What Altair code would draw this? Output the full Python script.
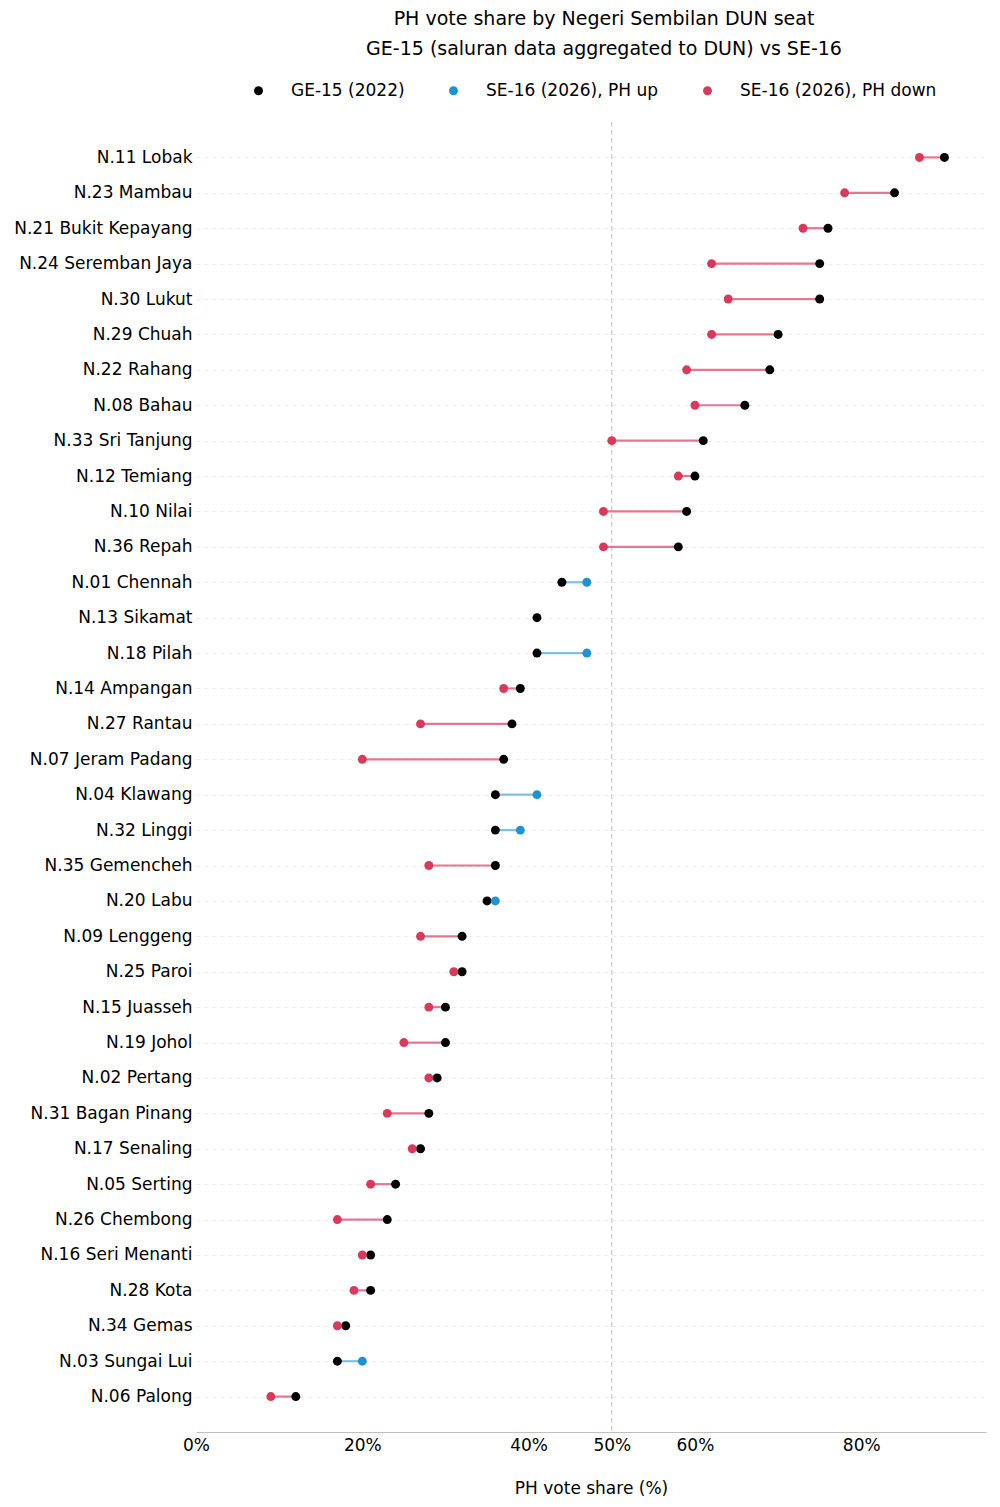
import altair as alt
import pandas as pd

seats = ["N.11 Lobak", "N.23 Mambau", "N.21 Bukit Kepayang", "N.24 Seremban Jaya", "N.30 Lukut",
         "N.29 Chuah", "N.22 Rahang", "N.08 Bahau", "N.33 Sri Tanjung", "N.12 Temiang",
         "N.10 Nilai", "N.36 Repah", "N.01 Chennah", "N.13 Sikamat", "N.18 Pilah",
         "N.14 Ampangan", "N.27 Rantau", "N.07 Jeram Padang", "N.04 Klawang", "N.32 Linggi",
         "N.35 Gemencheh", "N.20 Labu", "N.09 Lenggeng", "N.25 Paroi", "N.15 Juasseh",
         "N.19 Johol", "N.02 Pertang", "N.31 Bagan Pinang", "N.17 Senaling", "N.05 Serting",
         "N.26 Chembong", "N.16 Seri Menanti", "N.28 Kota", "N.34 Gemas", "N.03 Sungai Lui",
         "N.06 Palong"]
ge15 = [90.0, 84.0, 76.0, 75.0, 75.0, 70.0, 69.0, 66.0, 61.0, 60.0,
        59.0, 58.0, 44.0, 41.0, 41.0, 39.0, 38.0, 37.0, 36.0, 36.0,
        36.0, 35.0, 32.0, 32.0, 30.0, 30.0, 29.0, 28.0, 27.0, 24.0,
        23.0, 21.0, 21.0, 18.0, 17.0, 12.0]
se16 = [87.0, 78.0, 73.0, 62.0, 64.0, 62.0, 59.0, 60.0, 50.0, 58.0,
        49.0, 49.0, 47.0, None, 47.0, 37.0, 27.0, 20.0, 41.0, 39.0,
        28.0, 36.0, 27.0, 31.0, 28.0, 25.0, 28.0, 23.0, 26.0, 21.0,
        17.0, 20.0, 19.0, 17.0, 20.0, 9.0]
x_ticks = [0, 20, 40, 50, 60, 80]
series = ["GE-15 (2022)", "SE-16 (2026), PH up", "SE-16 (2026), PH down"]
series_colors = ["#000000", "#1f93d2", "#d93a5c"]

rows = []
seg = []
for s, g, e in zip(seats, ge15, se16):
    rows.append({"seat": s, "value": g, "series": series[0]})
    if e is not None:
        lab = series[1] if e > g else series[2]
        rows.append({"seat": s, "value": e, "series": lab})
        seg.append({"seat": s, "ge": g, "se": e, "dir": "up" if e > g else "down"})
pts = pd.DataFrame(rows)
segs = pd.DataFrame(seg)
ref = pd.DataFrame({"x": [50]})

FONT = "DejaVu Sans"
FS = 17

yenc = alt.Y("seat:N", sort=seats, title=None,
             scale=alt.Scale(type="point", padding=1),
             axis=alt.Axis(domain=False, ticks=False, labelFontSize=FS, labelColor="#000",
                           labelFont=FONT, labelPadding=4, labelLimit=400, grid=True,
                           gridColor="#ebebeb", gridDash=[4, 4], gridWidth=1))
xscale = alt.Scale(domain=[0, 95], nice=False, zero=True)
xaxis = alt.Axis(values=x_ticks, labelExpr="datum.value + '%'", ticks=False, grid=False,
                 labelFlush=False,
                 domainColor="#c0c0c0", domainWidth=1, labelFontSize=FS, labelFont=FONT,
                 labelColor="#000", labelPadding=5, title="PH vote share (%)",
                 titleFontSize=FS, titleFont=FONT, titleFontWeight="normal",
                 titleColor="#000", titlePadding=27)

vline = alt.Chart(ref).mark_rule(color="#c8c8c8", strokeDash=[5, 3], strokeWidth=1.2).encode(
    x=alt.X("x:Q", scale=xscale, axis=xaxis))

rules = alt.Chart(segs).mark_rule(strokeWidth=2.2, opacity=0.8).encode(
    y=yenc,
    x=alt.X("ge:Q", scale=xscale, axis=xaxis),
    x2="se:Q",
    color=alt.Color("dir:N", scale=alt.Scale(domain=["up", "down"], range=["#5fb3dc", "#e05575"]),
                    legend=None))

points = alt.Chart(pts).mark_circle(size=80, opacity=1).encode(
    y=yenc,
    x=alt.X("value:Q", scale=xscale, axis=xaxis),
    color=alt.Color("series:N", scale=alt.Scale(domain=series, range=series_colors),
                    legend=alt.Legend(title=None, orient="none", direction="horizontal",
                                      legendX=54, legendY=-40, labelFontSize=FS,
                                      labelFont=FONT, labelColor="#000", symbolSize=80,
                                      symbolType="circle", columnPadding=40, labelOffset=24,
                                      labelLimit=400, symbolStrokeWidth=0)),
    order=alt.Order("series:N"))

chart = alt.layer(vline, rules, points).resolve_scale(color="independent").properties(
    width=790, height=1310, background="white",
    padding={"top": 2, "left": 5, "right": 5, "bottom": 5},
    title=alt.TitleParams(
        text=["PH vote share by Negeri Sembilan DUN seat",
              "GE-15 (saluran data aggregated to DUN) vs SE-16"],
        fontSize=19, font=FONT, fontWeight="normal", color="#000", anchor="middle",
        lineHeight=30, offset=23, dx=13)
).configure_view(strokeWidth=0, stroke=None)

chart.save("out.html", embed_options={"renderer": "svg", "actions": False})
